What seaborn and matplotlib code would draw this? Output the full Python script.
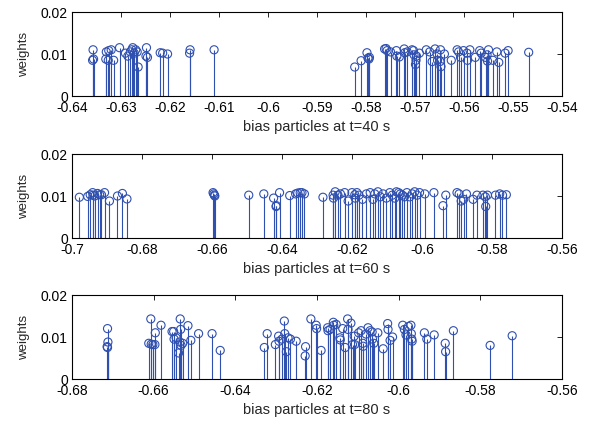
import numpy as np
import matplotlib
matplotlib.use("Agg")
import matplotlib.pyplot as plt
from matplotlib.ticker import FuncFormatter
import seaborn as sns

# particle positions (bias) and weights at three time instants
x40 = [-0.6357, -0.6356, -0.6358, -0.6330, -0.6331, -0.6325, -0.6326, -0.6320, -0.6315,
       -0.6303, -0.6291, -0.6286, -0.6281, -0.6278, -0.6276, -0.6273, -0.6270, -0.6267,
       -0.6265, -0.6248, -0.6249, -0.6246, -0.6220, -0.6215, -0.6205, -0.6159, -0.6160,
       -0.6110,
       -0.5823, -0.5810, -0.5798, -0.5796, -0.5794, -0.5793, -0.5762, -0.5759, -0.5757,
       -0.5750, -0.5738, -0.5737, -0.5732, -0.5722, -0.5721, -0.5716, -0.5706, -0.5703,
       -0.5702, -0.5698, -0.5697, -0.5699, -0.5691, -0.5677, -0.5670, -0.5665, -0.5659,
       -0.5655, -0.5654, -0.5648, -0.5647, -0.5649, -0.5640, -0.5626, -0.5614, -0.5611,
       -0.5607, -0.5601, -0.5594, -0.5593, -0.5588, -0.5577, -0.5568, -0.5565, -0.5556,
       -0.5553, -0.5552, -0.5550, -0.5541, -0.5533, -0.5529, -0.5516, -0.5510, -0.5468]
w40 = [0.0110, 0.0088, 0.0085, 0.0105, 0.0088, 0.0108, 0.0085, 0.0110, 0.0085,
       0.0115, 0.0102, 0.0095, 0.0105, 0.0110, 0.0115, 0.0102, 0.0110, 0.0105,
       0.0069, 0.0115, 0.0095, 0.0092, 0.0103, 0.0102, 0.0100, 0.0110, 0.0102,
       0.0110,
       0.0069, 0.0084, 0.0103, 0.0090, 0.0088, 0.0092, 0.0112, 0.0113, 0.0108,
       0.0105, 0.0108, 0.0095, 0.0093, 0.0112, 0.0103, 0.0105, 0.0110, 0.0108,
       0.0098, 0.0085, 0.0095, 0.0075, 0.0102, 0.0110, 0.0105, 0.0082, 0.0112,
       0.0100, 0.0085, 0.0110, 0.0070, 0.0082, 0.0100, 0.0085, 0.0110, 0.0105,
       0.0092, 0.0108, 0.0102, 0.0085, 0.0110, 0.0092, 0.0108, 0.0102, 0.0092,
       0.0098, 0.0083, 0.0110, 0.0085, 0.0105, 0.0080, 0.0102, 0.0108, 0.0104]

x60 = [-0.6979, -0.6955, -0.6948, -0.6941, -0.6940, -0.6935, -0.6927, -0.6921, -0.6916,
       -0.6907, -0.6893, -0.6870, -0.6856, -0.6843, -0.6597, -0.6595, -0.6593, -0.6592,
       -0.6495, -0.6452, -0.6424, -0.6417, -0.6416, -0.6407, -0.6378, -0.6361, -0.6355,
       -0.6348, -0.6343, -0.6336,
       -0.6283, -0.6254, -0.6253, -0.6248, -0.6240, -0.6233, -0.6221, -0.6211, -0.6200,
       -0.6192, -0.6191, -0.6186, -0.6180, -0.6170, -0.6159, -0.6148, -0.6140, -0.6135,
       -0.6126, -0.6119, -0.6111, -0.6102, -0.6092, -0.6085, -0.6078, -0.6073, -0.6067,
       -0.6062, -0.6056, -0.6050, -0.6043, -0.6035, -0.6028, -0.6021, -0.6014, -0.6007,
       -0.5992, -0.5966, -0.5940, -0.5932, -0.5900, -0.5894, -0.5888, -0.5881, -0.5873,
       -0.5854, -0.5843, -0.5826, -0.5819, -0.5818, -0.5813, -0.5790, -0.5778, -0.5770,
       -0.5759]
w60 = [0.0097, 0.0099, 0.0103, 0.0108, 0.0102, 0.0100, 0.0106, 0.0103, 0.0103,
       0.0108, 0.0088, 0.0100, 0.0106, 0.0093, 0.0108, 0.0105, 0.0102, 0.0100,
       0.0102, 0.0105, 0.0095, 0.0075, 0.0077, 0.0108, 0.0101, 0.0105, 0.0107,
       0.0108, 0.0108, 0.0105,
       0.0097, 0.0102, 0.0095, 0.0110, 0.0102, 0.0105, 0.0108, 0.0088, 0.0108,
       0.0103, 0.0095, 0.0108, 0.0102, 0.0092, 0.0105, 0.0108, 0.0092, 0.0105,
       0.0110, 0.0098, 0.0105, 0.0095, 0.0108, 0.0102, 0.0095, 0.0110, 0.0108,
       0.0105, 0.0102, 0.0098, 0.0108, 0.0098, 0.0105, 0.0110, 0.0102, 0.0108,
       0.0105, 0.0108, 0.0077, 0.0102, 0.0108, 0.0105, 0.0088, 0.0092, 0.0105,
       0.0092, 0.0102, 0.0102, 0.0098, 0.0075, 0.0102, 0.0102, 0.0105, 0.0102,
       0.0103]

x80 = [-0.6713, -0.6712, -0.6714, -0.6713, -0.6612, -0.6607, -0.6606, -0.6602, -0.6596,
       -0.6597, -0.6582, -0.6555, -0.6551, -0.6550, -0.6545, -0.6539, -0.6535, -0.6534,
       -0.6536, -0.6533, -0.6529, -0.6516, -0.6509, -0.6490, -0.6457, -0.6437, -0.6329,
       -0.6322, -0.6302, -0.6294, -0.6293, -0.6286, -0.6280, -0.6279, -0.6275, -0.6271,
       -0.6265, -0.6251, -0.6229, -0.6228, -0.6215, -0.6202, -0.6201,
       -0.6190, -0.6174, -0.6173, -0.6168, -0.6160, -0.6159, -0.6153, -0.6144, -0.6143,
       -0.6137, -0.6131, -0.6125, -0.6124, -0.6117, -0.6113, -0.6109, -0.6108, -0.6098,
       -0.6092, -0.6088, -0.6087, -0.6080, -0.6075, -0.6070, -0.6065, -0.6064, -0.6061,
       -0.6051, -0.6038, -0.6027, -0.6026, -0.6021, -0.6015, -0.5990, -0.5986, -0.5982,
       -0.5976, -0.5970, -0.5969, -0.5968, -0.5967, -0.5937, -0.5931, -0.5913, -0.5886,
       -0.5885, -0.5866, -0.5776, -0.5722]
w80 = [0.0120, 0.0088, 0.0077, 0.0075, 0.0085, 0.0143, 0.0083, 0.0082, 0.0110,
       0.0082, 0.0128, 0.0113, 0.0113, 0.0095, 0.0098, 0.0062, 0.0143, 0.0118,
       0.0088, 0.0080, 0.0085, 0.0127, 0.0092, 0.0108, 0.0108, 0.0068, 0.0075,
       0.0108, 0.0082, 0.0102, 0.0090, 0.0095, 0.0138, 0.0108, 0.0065, 0.0098,
       0.0095, 0.0090, 0.0055, 0.0077, 0.0143, 0.0128, 0.0120,
       0.0068, 0.0122, 0.0115, 0.0118, 0.0135, 0.0128, 0.0130, 0.0098, 0.0093,
       0.0120, 0.0075, 0.0143, 0.0118, 0.0133, 0.0082, 0.0102, 0.0082, 0.0110,
       0.0115, 0.0085, 0.0078, 0.0107, 0.0122, 0.0115, 0.0112, 0.0095, 0.0085,
       0.0110, 0.0072, 0.0132, 0.0118, 0.0092, 0.0100, 0.0128, 0.0118, 0.0105,
       0.0125, 0.0128, 0.0108, 0.0095, 0.0090, 0.0110, 0.0095, 0.0105, 0.0085,
       0.0065, 0.0115, 0.0080, 0.0103]

panels = [
    (x40, w40, (-0.64, -0.54), np.arange(-0.64, -0.5399, 0.01), "bias particles at t=40 s"),
    (x60, w60, (-0.70, -0.56), np.arange(-0.70, -0.5599, 0.02), "bias particles at t=60 s"),
    (x80, w80, (-0.68, -0.56), np.arange(-0.68, -0.5599, 0.02), "bias particles at t=80 s"),
]

sns.set_style("white")
plt.rcParams["font.family"] = ["Liberation Sans", "DejaVu Sans"]
plt.rcParams["axes.unicode_minus"] = False

blue = "#3050b0"
fig = plt.figure(figsize=(5.9, 4.23), dpi=100)
W, H = 590.0, 423.0
tops = [12, 154, 295]
fmt = FuncFormatter(lambda v, p: "%g" % round(v, 4))

for (xs, ws, xl, xt, lab), top in zip(panels, tops):
    ax = fig.add_axes([72 / W, (H - top - 84) / H, 490 / W, 84 / H])
    ax.vlines(xs, 0, ws, color=blue, lw=0.8)
    sns.scatterplot(x=xs, y=ws, ax=ax, marker="o", s=34, facecolor="none",
                    edgecolor=blue, linewidth=0.8, legend=False)
    ax.set_xlim(*xl)
    ax.set_ylim(0, 0.02)
    ax.set_xticks(xt)
    ax.set_yticks([0, 0.01, 0.02])
    ax.xaxis.set_major_formatter(fmt)
    ax.yaxis.set_major_formatter(fmt)
    ax.tick_params(direction="in", length=3.5, width=0.6, top=True, right=True,
                   labelsize=10, colors="black")
    ax.tick_params(axis="x", pad=3.5)
    ax.tick_params(axis="y", pad=3)
    for s in ax.spines.values():
        s.set_linewidth(0.8)
        s.set_color("black")
    ax.set_xlabel(lab, fontsize=10.5, labelpad=4)
    ax.set_ylabel("weights", fontsize=9.5, labelpad=8)

fig.savefig("out.png", dpi=100)
